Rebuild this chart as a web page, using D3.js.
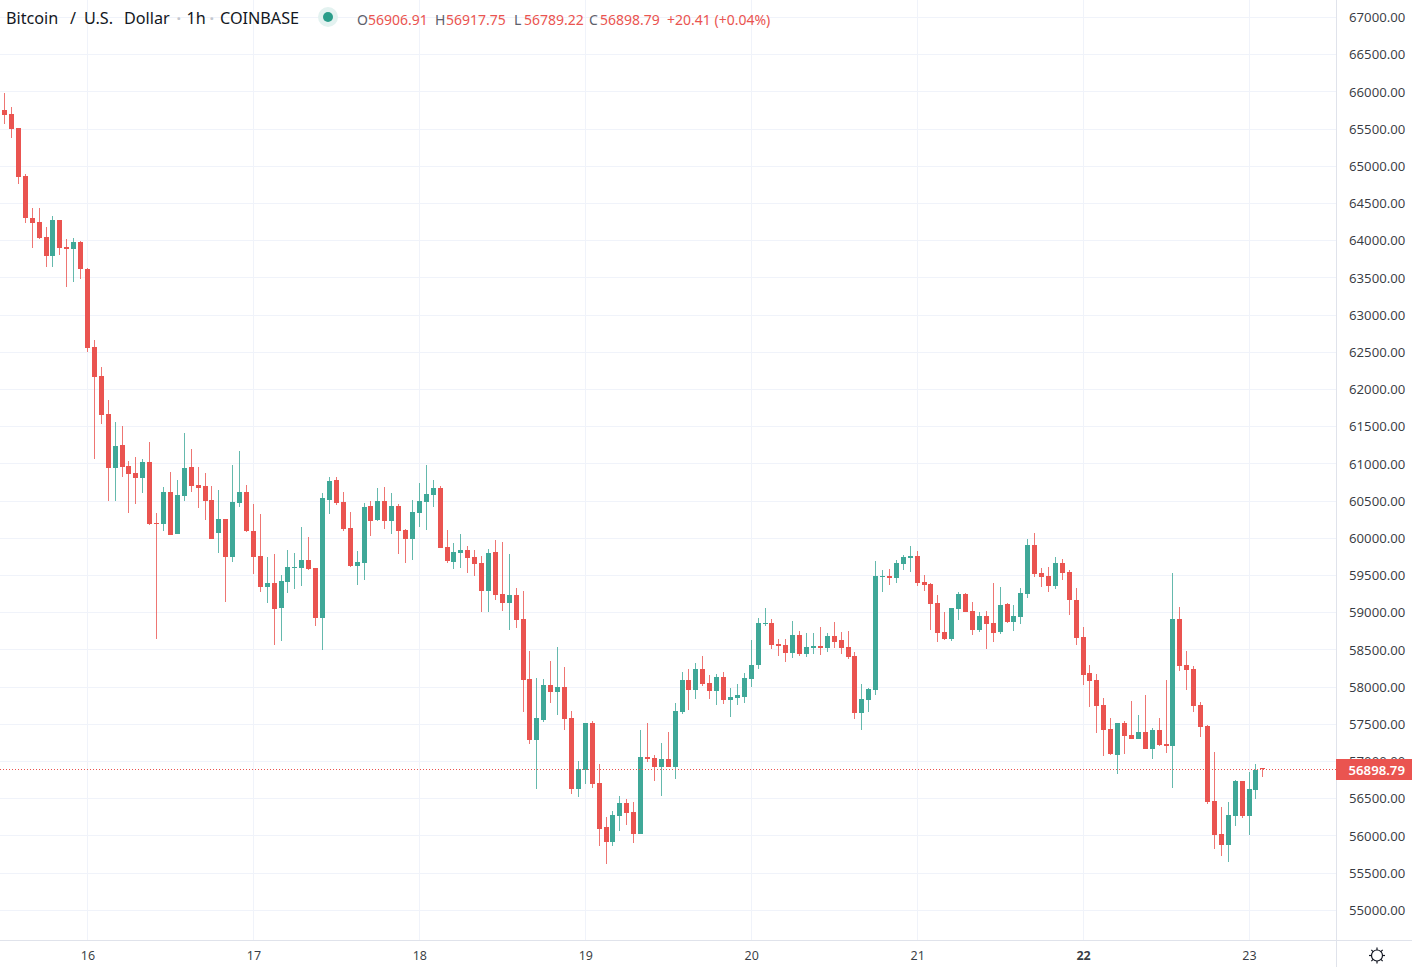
<!DOCTYPE html>
<html>
<head>
<meta charset="utf-8">
<title>Bitcoin / U.S. Dollar</title>
<script src="https://cdn.jsdelivr.net/npm/d3@7"></script>
<style>
  html, body { margin: 0; padding: 0; background: #fff; overflow: hidden; }
  svg { display: block; }
  text { font-family: "Noto Sans", "Open Sans", sans-serif; }
</style>
</head>
<body>
<svg id="chart" width="1412" height="967"></svg>
<script>
// hourly candles, first one is 15th 12:00
var firstHour = -12;
var opens = [
  65756,65702,65514,64869,64304,64250,64049,63793,64277,63914,63887,63981,
  63619,62570,62181,61670,60944,61253,60971,60877,60810,61025,60205,60191,
  60622,60057,60568,60958,60716,60702,60514,60070,60259,59748,60474,60622,
  60097,59761,59345,59398,59062,59412,59600,59600,59708,59600,58928,60514,
  60783,60487,60138,59627,59667,60433,60245,60500,60232,60433,60111,59990,
  60339,60487,60581,60675,59882,59681,59802,59842,59748,59667,59291,59815,
  59251,59130,59237,58915,58108,57288,57557,58028,57934,58001,57584,56630,
  56885,57517,56711,56119,55918,56267,56442,56321,56025,57060,57046,56926,
  57033,56926,57665,58095,57960,58243,58054,57947,58135,57826,57853,57866,
  58108,58296,58847,58861,58579,58565,58458,58700,58444,58525,58552,58525,
  58686,58632,58538,58417,57651,57826,57960,59479,59493,59466,59654,59734,
  59761,59412,59385,59130,58740,58646,59049,59251,59022,58767,58955,58861,
  58740,59116,58874,58942,59251,59909,59533,59493,59358,59667,59546,59170,
  58673,58189,58095,57759,57436,57087,57517,57356,57302,57396,57167,57423,
  57235,57208,58915,58296,58243,57759,57477,56469,56025,55877,56267,56737,
  56267,56616,56906.91
];
var highs = [
  65984,65796,65514,64895,64438,64438,64183,64331,64277,64022,64035,63995,
  63632,62664,62302,61858,61562,61509,61038,61092,61065,61294,60339,60689,
  60890,60783,61414,61199,60958,60877,60702,60648,60259,60984,61173,60716,
  60460,60326,59748,59788,59506,59842,59802,60151,60017,59600,60608,60823,
  60823,60622,60353,59829,60474,60500,60675,60689,60608,60460,60124,60514,
  60742,60984,60783,60702,60111,59936,60057,59896,59842,59761,59855,59976,
  59950,59788,59331,59291,58485,58122,58108,58350,58538,58270,57678,57006,
  57517,57544,56966,56254,56334,56536,56495,56455,57423,57517,57087,57248,
  57396,57786,58202,58243,58323,58417,58162,58175,58202,57987,58041,58189,
  58632,58928,59062,58915,58646,58646,58888,58753,58727,58727,58807,58727,
  58874,58740,58753,58471,58041,57987,59694,59573,59587,59708,59775,59896,
  59829,59506,59398,59237,59009,59062,59278,59264,59143,59009,59022,59398,
  59345,59130,59103,59331,59990,60070,59600,59614,59748,59721,59573,59331,
  58807,58296,58175,57853,57584,57517,57544,57813,57624,57893,57450,57584,
  58095,59533,59076,58485,58283,57799,57490,57127,56388,56455,56751,56737,
  56858,56966,56917.75
];
var lows = [
  65567,65379,64761,64237,63901,64022,63646,63646,63807,63377,63444,63484,
  62503,61065,61535,60500,60500,60823,60339,60460,60608,60178,58646,60097,
  60044,60057,60500,60622,60406,60245,59990,59802,59143,59681,60420,60084,
  59520,59278,59130,58565,58619,59264,59318,59358,59573,58821,58498,60326,
  60447,60097,59614,59372,59439,60030,60232,60124,60057,59788,59667,59708,
  60151,60111,60420,59869,59667,59587,59600,59533,59493,59009,59009,59170,
  59022,58767,58794,57665,57235,56630,57530,57786,57624,57423,56563,56522,
  56697,56643,55864,55622,55864,56065,56146,55904,56025,56993,56737,56536,
  56926,56764,57638,57692,57839,58014,57839,57759,57772,57598,57759,57786,
  58001,58243,58821,58511,58417,58337,58390,58417,58404,58444,58431,58471,
  58525,58444,58377,57571,57423,57665,57893,59278,59372,59398,59573,59546,
  59358,59291,58767,58606,58632,58619,58901,59009,58700,58740,58511,58606,
  58713,58861,58753,58847,59197,59479,59345,59278,59318,59439,58968,58565,
  58028,57732,57382,57073,57087,56831,57100,57302,57302,57167,57033,57208,
  57114,56643,58216,57960,57665,57329,56428,55823,55729,55649,56133,56240,
  56012,56495,56789.22
];
var closes = [
  65688,65500,64855,64304,64237,64035,63793,64277,63901,63887,63981,63619,
  62557,62167,61656,60944,61240,60958,60863,60810,61025,60191,60191,60622,
  60044,60581,60944,60702,60675,60500,59990,60259,59748,60487,60622,60097,
  59748,59345,59398,59049,59425,59614,59614,59708,59587,58928,60541,60769,
  60474,60124,59627,59681,60420,60232,60500,60232,60433,60097,59990,60353,
  60500,60595,60675,59869,59694,59815,59842,59734,59654,59291,59802,59237,
  59130,59237,58901,58095,57288,57584,58028,57934,58001,57571,56630,56899,
  57517,56697,56092,55918,56280,56442,56307,56025,57060,57033,56926,57033,
  56926,57678,58095,57960,58243,58041,57947,58135,57826,57866,57893,58122,
  58296,58861,58861,58565,58552,58458,58700,58444,58538,58552,58525,58686,
  58606,58525,58404,57651,57840,57974,59493,59493,59466,59667,59748,59761,
  59398,59372,59116,58727,58646,59062,59251,59009,58767,58955,58847,58727,
  59103,58874,58955,59264,59909,59520,59479,59358,59667,59533,59170,58659,
  58162,58081,57745,57423,57100,57517,57342,57302,57396,57167,57423,57221,
  57208,58915,58283,58229,57745,57463,56455,56012,55877,56280,56737,56267,
  56630,56885,56898.79
];

var dayHours = [0, 24, 48, 72, 96, 120, 144, 168];
var dayLabels = ["16", "17", "18", "19", "20", "21", "22", "23"];
var boldDay = "22";
var priceTicks = [55000, 55500, 56000, 56500, 57000, 57500, 58000, 58500, 59000, 59500, 60000, 60500,
  61000, 61500, 62000, 62500, 63000, 63500, 64000, 64500, 65000, 65500, 66000, 66500, 67000];
var lastPrice = 56898.79;

var up = "#3fa898", down = "#ea5450", gridColor = "#f0f3fa", lineColor = "#e0e3eb", textColor = "#131722";

var svg = d3.select("#chart"),
  width = 1412,
  height = 967,
  plotRight = 1336,
  plotBottom = 940;

var x = d3.scaleLinear().domain([0, 168]).range([87.5, 1249]);
var y = d3.scaleLinear().domain([55000, 67000]).range([910.3, 17.5]);

function snap(v) { return Math.round(v - 0.5) + 0.5; }

var candles = opens.map(function(o, i) {
  return { hour: firstHour + i, o: o, h: highs[i], l: lows[i], c: closes[i] };
});

// grid
var grid = svg.append("g").attr("fill", "none").attr("stroke", gridColor).attr("stroke-width", 1);
grid.selectAll("line.h").data(priceTicks).enter().append("line")
  .attr("x1", 0).attr("x2", plotRight)
  .attr("y1", function(d) { return snap(y(d)); })
  .attr("y2", function(d) { return snap(y(d)); });
grid.selectAll("line.v").data(dayHours).enter().append("line")
  .attr("x1", function(d) { return snap(x(d)); })
  .attr("x2", function(d) { return snap(x(d)); })
  .attr("y1", 0).attr("y2", plotBottom);

// candles
var g = svg.append("g");
g.selectAll("line.wick").data(candles).enter().append("line")
  .attr("class", "wick")
  .attr("x1", function(d) { return snap(x(d.hour)); })
  .attr("x2", function(d) { return snap(x(d.hour)); })
  .attr("y1", function(d) { return Math.round(y(d.h)); })
  .attr("y2", function(d) { return Math.round(y(d.l)); })
  .attr("stroke", function(d) { return d.c >= d.o ? up : down; })
  .attr("stroke-opacity", 0.8)
  .attr("stroke-width", 1);
g.selectAll("rect.body").data(candles).enter().append("rect")
  .attr("class", "body")
  .attr("x", function(d) { return snap(x(d.hour)) - 2.5; })
  .attr("width", 5)
  .attr("y", function(d) { return Math.round(y(Math.max(d.o, d.c))); })
  .attr("height", function(d) {
    return Math.max(1, Math.round(y(Math.min(d.o, d.c))) - Math.round(y(Math.max(d.o, d.c))));
  })
  .attr("fill", function(d) { return d.c >= d.o ? up : down; });

// last price line
svg.append("line")
  .attr("x1", 0).attr("x2", plotRight)
  .attr("y1", snap(y(lastPrice))).attr("y2", snap(y(lastPrice)))
  .attr("stroke", down).attr("stroke-dasharray", "1 2").attr("stroke-width", 1);

// price axis
var yAxis = svg.append("g")
  .attr("transform", "translate(" + plotRight + ",0)")
  .call(d3.axisRight(y).tickValues(priceTicks).tickFormat(d3.format(".2f")).tickSize(0).tickPadding(13));
yAxis.select(".domain").remove();
yAxis.selectAll("text").attr("fill", textColor).attr("font-size", 13.2)
  .style("font-family", "'Noto Sans', sans-serif").attr("fill-opacity", 0.85);

// time axis
var xAxis = svg.append("g")
  .attr("transform", "translate(0," + plotBottom + ")")
  .call(d3.axisBottom(x).tickValues(dayHours)
    .tickFormat(function(d, i) { return dayLabels[i]; }).tickSize(0).tickPadding(11.5));
xAxis.select(".domain").remove();
xAxis.selectAll("text").attr("fill", textColor).attr("font-size", 12.5)
  .style("font-family", "'Noto Sans', sans-serif")
  .attr("fill-opacity", 0.85)
  .attr("font-weight", function(d, i) { return dayLabels[i] == boldDay ? "bold" : "normal"; });

// scale borders
svg.append("line").attr("x1", plotRight + 0.5).attr("x2", plotRight + 0.5).attr("y1", 0).attr("y2", height)
  .attr("stroke", lineColor);
svg.append("line").attr("x1", 0).attr("x2", width).attr("y1", plotBottom + 0.5).attr("y2", plotBottom + 0.5)
  .attr("stroke", lineColor);

// last price tag
svg.append("rect")
  .attr("x", plotRight).attr("width", width - plotRight)
  .attr("y", snap(y(lastPrice)) - 10.5).attr("height", 21)
  .attr("fill", down);
svg.append("text")
  .attr("x", plotRight + 12.5).attr("y", snap(y(lastPrice)) + 5)
  .attr("fill", "#fff").attr("font-size", 13.2).attr("font-weight", 600)
  .text(d3.format(".2f")(lastPrice));

// legend
var legend = svg.append("g");
var titleParts = [
  { t: "Bitcoin", x: 6, c: textColor },
  { t: "/", x: 70, c: textColor },
  { t: "U.S.", x: 84, c: textColor },
  { t: "Dollar", x: 124, c: textColor },
  { t: "·", x: 176.5, c: "#c4c7ce" },
  { t: "1h", x: 186.5, c: textColor },
  { t: "·", x: 209.5, c: "#c4c7ce" },
  { t: "COINBASE", x: 220, c: textColor }
];
legend.selectAll("text.title").data(titleParts).enter().append("text")
  .attr("class", "title")
  .attr("x", function(d) { return d.x; })
  .attr("y", 24)
  .attr("font-size", 16.2)
  .attr("font-weight", function(d) { return d.t == "·" ? "bold" : "normal"; })
  .attr("fill", function(d) { return d.c; })
  .text(function(d) { return d.t; });
legend.append("circle").attr("cx", 328).attr("cy", 17).attr("r", 10).attr("fill", "#e3f2f0");
legend.append("circle").attr("cx", 328).attr("cy", 17).attr("r", 5).attr("fill", "#2a9d8a");

var ohlcParts = [
  { t: "O", x: 357, c: "#5d606b" }, { t: "56906.91", x: 368, c: down },
  { t: "H", x: 435, c: "#5d606b" }, { t: "56917.75", x: 446, c: down },
  { t: "L", x: 514, c: "#5d606b" }, { t: "56789.22", x: 524, c: down },
  { t: "C", x: 589, c: "#5d606b" }, { t: "56898.79", x: 600, c: down },
  { t: "+20.41 (+0.04%)", x: 667, c: down }
];
legend.selectAll("text.ohlc").data(ohlcParts).enter().append("text")
  .attr("class", "ohlc")
  .attr("x", function(d) { return d.x; })
  .attr("y", 24.5)
  .attr("font-size", 14)
  .attr("fill", function(d) { return d.c; })
  .text(function(d) { return d.t; });

// settings gear
var gear = svg.append("g").attr("transform", "translate(1377,955.5)")
  .attr("stroke", textColor).attr("fill", "none").attr("stroke-width", 1.2);
gear.append("circle").attr("r", 5.5);
gear.selectAll("line").data(d3.range(8)).enter().append("line")
  .attr("x1", 0).attr("x2", 0).attr("y1", -5.5).attr("y2", -8)
  .attr("transform", function(d) { return "rotate(" + d * 45 + ")"; });
</script>
</body>
</html>
